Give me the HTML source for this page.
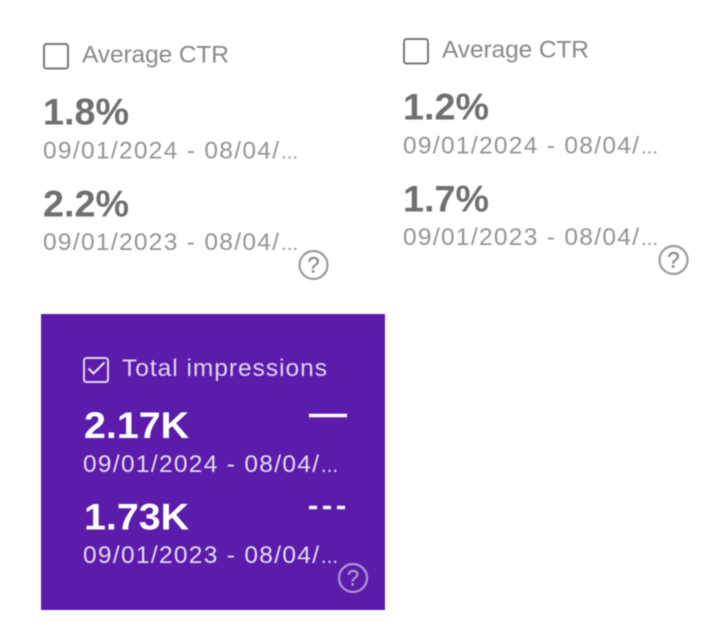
<!DOCTYPE html>
<html lang="en">
<head>
<meta charset="utf-8">
<title>Scorecards</title>
<style>
html,body{margin:0;padding:0;background:#fff;width:716px;height:642px;overflow:hidden}
svg{display:block;font-family:"Liberation Sans",sans-serif}
.blur{filter:blur(.5px)}
.label{font-size:24.500px;fill:#8a8a8a}
.value{font-size:37px;font-weight:700;fill:#707070}
.date{font-size:24.500px;fill:#949494}
.dots{font-size:20px;fill:#949494}
.box{fill:none;stroke:#787878;stroke-width:2}
.help-c{fill:none;stroke:#9c9c9c;stroke-width:2.2}
.help-t{font-size:22px;font-weight:400;fill:#8c8c8c;stroke:#8c8c8c;stroke-width:.4;text-anchor:middle}
.on .label{fill:#e2d4f1}
.on .value{fill:#fff}
.on .date,.on .dots{fill:#e6dbf3}
.on .box{stroke:#e2d4f1}
.on .help-c{stroke:#b193d6}
.on .help-t{fill:#b193d6;stroke:#b193d6}
</style>
</head>
<body>
<svg width="716" height="642" viewBox="0 0 716 642" xmlns="http://www.w3.org/2000/svg">
  <g class="blur">
    <!-- Card 1 -->
    <g>
      <rect class="box" x="44" y="44" width="24" height="24.5" rx="2.5"/>
      <text class="label" x="82" y="62.500" textLength="147" lengthAdjust="spacing">Average CTR</text>
      <text class="value" x="43" y="124.500" textLength="86" lengthAdjust="spacingAndGlyphs">1.8%</text>
      <text class="date" x="43" y="158.500" textLength="236" lengthAdjust="spacing">09/01/2024 - 08/04/</text>
      <text class="dots" x="281" y="158.500" textLength="17" lengthAdjust="spacing">...</text>
      <text class="value" x="43" y="216.500" textLength="86" lengthAdjust="spacingAndGlyphs">2.2%</text>
      <text class="date" x="43" y="250" textLength="236" lengthAdjust="spacing">09/01/2023 - 08/04/</text>
      <text class="dots" x="281" y="250" textLength="17" lengthAdjust="spacing">...</text>
      <g>
        <circle class="help-c" cx="313.500" cy="265" r="14"/>
        <text class="help-t" x="313.500" y="272.500">?</text>
      </g>
    </g>
    <!-- Card 2 -->
    <g transform="translate(360,-5)">
      <rect class="box" x="44" y="44" width="24" height="24.5" rx="2.5"/>
      <text class="label" x="82" y="62.500" textLength="147" lengthAdjust="spacing">Average CTR</text>
      <text class="value" x="43" y="124.500" textLength="86" lengthAdjust="spacingAndGlyphs">1.2%</text>
      <text class="date" x="43" y="158.500" textLength="236" lengthAdjust="spacing">09/01/2024 - 08/04/</text>
      <text class="dots" x="281" y="158.500" textLength="17" lengthAdjust="spacing">...</text>
      <text class="value" x="43" y="216.500" textLength="86" lengthAdjust="spacingAndGlyphs">1.7%</text>
      <text class="date" x="43" y="250" textLength="236" lengthAdjust="spacing">09/01/2023 - 08/04/</text>
      <text class="dots" x="281" y="250" textLength="17" lengthAdjust="spacing">...</text>
      <g>
        <circle class="help-c" cx="313.500" cy="265" r="14"/>
        <text class="help-t" x="313.500" y="272.500">?</text>
      </g>
    </g>
    <!-- Card 3 -->
    <rect x="41" y="314" width="344" height="296" fill="#5c1cab"/>
    <g class="on" transform="translate(40,314)">
      <rect class="box" x="44" y="44" width="24" height="24" rx="2.5"/>
      <path d="M48.500 54.500l5 5 11-11" fill="none" stroke="#eee6f6" stroke-width="2"/>
      <text class="label" x="82" y="62" textLength="205" lengthAdjust="spacing">Total impressions</text>
      <text class="value" x="44" y="124" textLength="105" lengthAdjust="spacingAndGlyphs">2.17K</text>
      <text class="date" x="43" y="158" textLength="236" lengthAdjust="spacing">09/01/2024 - 08/04/</text>
      <text class="dots" x="281" y="158" textLength="17" lengthAdjust="spacing">...</text>
      <text class="value" x="44" y="215.500" textLength="105" lengthAdjust="spacingAndGlyphs">1.73K</text>
      <text class="date" x="43" y="249" textLength="236" lengthAdjust="spacing">09/01/2023 - 08/04/</text>
      <text class="dots" x="281" y="249" textLength="17" lengthAdjust="spacing">...</text>
      <line x1="269" y1="101.500" x2="307" y2="101.500" stroke="#fff" stroke-width="3.500"/>
      <line x1="269" y1="193.500" x2="306" y2="193.500" stroke="#fff" stroke-width="3.500" stroke-dasharray="8 6"/>
      <g>
        <circle class="help-c" cx="313" cy="264" r="14"/>
        <text class="help-t" x="313" y="271.500">?</text>
      </g>
    </g>
  </g>
</svg>
</body>
</html>
